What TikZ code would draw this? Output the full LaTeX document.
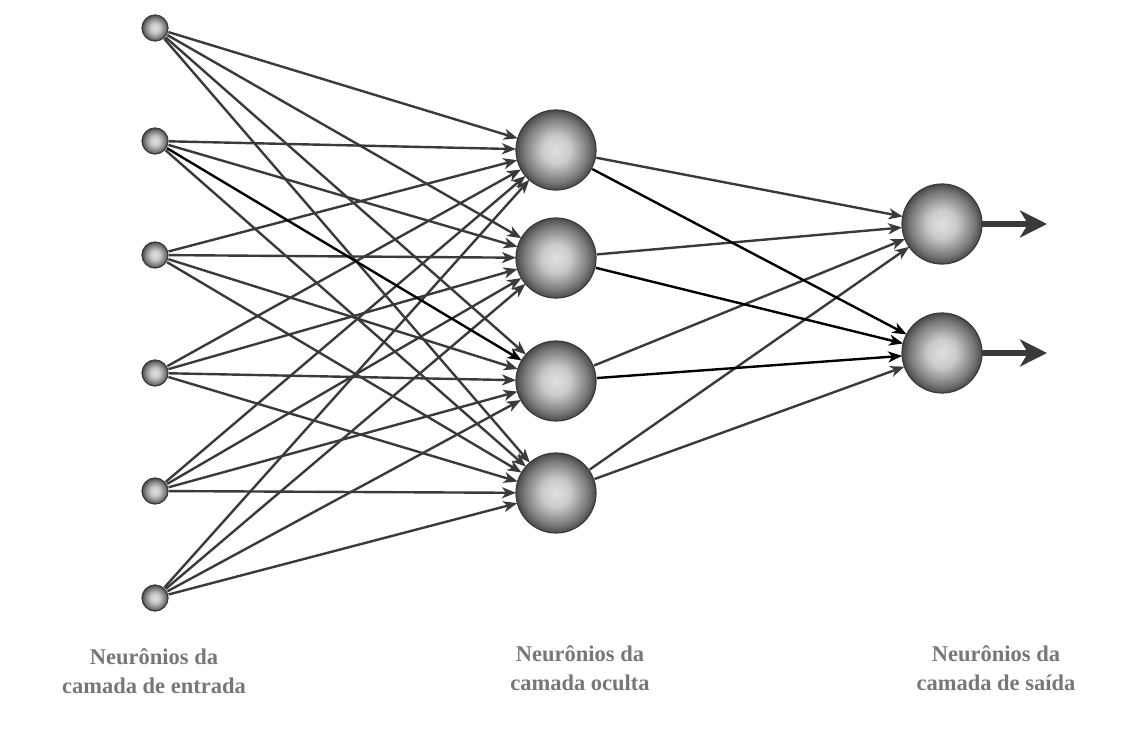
\documentclass[tikz,border=0pt]{standalone}
\usepackage{fontspec}
\setmainfont{Liberation Serif}
\usetikzlibrary{arrows.meta}
\definecolor{edgecol}{HTML}{3A3A3A}
\definecolor{labelcol}{HTML}{777777}
\definecolor{ballin}{HTML}{E0E0E0}
\definecolor{ballmid}{HTML}{CACACA}
\definecolor{ballout}{HTML}{7A7A7A}
\definecolor{ballrim}{HTML}{4A4A4A}
\pgfdeclareradialshading{neuronshade}{\pgfpoint{0bp}{0bp}}{color(0bp)=(ballin); color(9bp)=(ballmid); color(20bp)=(ballout); color(25bp)=(ballrim); color(50bp)=(ballrim)}
\tikzset{
  neuron/.style={circle, inner sep=0pt, outer sep=0pt, shading=neuronshade, draw=edgecol, line width=1.2pt},
  inneuron/.style={neuron, minimum size=26pt},
  bigneuron/.style={neuron, minimum size=80pt},
  conn/.style={draw=edgecol, line width=2.4pt, shorten <=1pt, -{Stealth[length=14pt,width=11pt,inset=4pt]}},
  darkconn/.style={conn, draw=black},
  outarrow/.style={draw=edgecol, line width=6.5pt, -{Stealth[length=27pt,width=27pt,inset=8pt]}},
  layerlabel/.style={text=labelcol, align=center, font=\bfseries\fontsize{22.5}{29}\selectfont}
}
\begin{document}
\begin{tikzpicture}[x=1pt,y=-1pt]
\useasboundingbox (0,0) rectangle (1139,733);
% input layer
\node[inneuron] (i1) at (155,28) {};
\node[inneuron] (i2) at (155,141) {};
\node[inneuron] (i3) at (155,255) {};
\node[inneuron] (i4) at (155,373) {};
\node[inneuron] (i5) at (155,491) {};
\node[inneuron] (i6) at (155,598) {};
% hidden layer
\node[bigneuron] (h1) at (556,150) {};
\node[bigneuron] (h2) at (556,258) {};
\node[bigneuron] (h3) at (556,381) {};
\node[bigneuron] (h4) at (556,493) {};
% output layer
\node[bigneuron] (o1) at (942,224) {};
\node[bigneuron] (o2) at (942,353) {};
% free ends of output arrows
\coordinate (e1) at (1047,224);
\coordinate (e2) at (1047,353);
% input -> hidden
\foreach \i in {1,...,6}{
  \foreach \h in {1,...,4}{
    \ifnum\i=2 \ifnum\h=3 \else \draw[conn] (i\i) -- (h\h); \fi
    \else \draw[conn] (i\i) -- (h\h); \fi
  }
}
\draw[darkconn] (i2) -- (h3);
% hidden -> output
\draw[conn] (h1) -- (o1);
\draw[conn] (h2) -- (o1);
\draw[conn] (h3) -- (o1);
\draw[conn] (h4) -- (o1);
\draw[conn] (h4) -- (o2);
\draw[darkconn] (h1) -- (o2);
\draw[darkconn] (h2) -- (o2);
\draw[darkconn] (h3) -- (o2);
% outputs
\draw[outarrow] (o1) -- (e1);
\draw[outarrow] (o2) -- (e2);
% labels
\node[layerlabel] (l1) at (154,671) {Neurônios da\\camada de entrada};
\node[layerlabel] (l2) at (580,668) {Neurônios da\\camada oculta};
\node[layerlabel] (l3) at (996,668) {Neurônios da\\camada de saída};
\end{tikzpicture}
\end{document}
